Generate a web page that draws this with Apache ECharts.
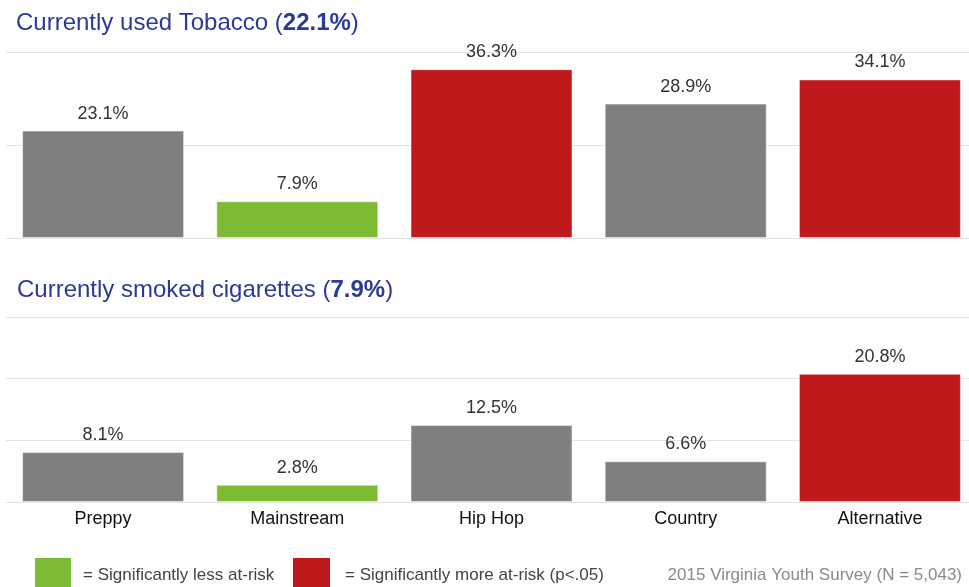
<!DOCTYPE html>
<html>
<head>
<meta charset="utf-8">
<script src="https://cdn.jsdelivr.net/npm/echarts@6/dist/echarts.min.js"></script>
<style>
  html, body { margin: 0; padding: 0; background: #fff; overflow: hidden; }
  /* the plot runs slightly past the right edge of the page */
  #chart { width: 985px; height: 587px; }
</style>
</head>
<body>
<div id="chart"></div>
<script>
// Peer-crowd groups
const categories = ['Preppy', 'Mainstream', 'Hip Hop', 'Country', 'Alternative'];

// Current tobacco use (%) by group; overall rate 22.1%
const tobaccoValues = [23.1, 7.9, 36.3, 28.9, 34.1];
const tobaccoOverall = '22.1%';
// Significance vs. overall: 'less', 'more' or 'none'
const tobaccoSig = ['none', 'less', 'more', 'none', 'more'];

// Current cigarette smoking (%) by group; overall rate 7.9%
const cigaretteValues = [8.1, 2.8, 12.5, 6.6, 20.8];
const cigaretteOverall = '7.9%';
const cigaretteSig = ['none', 'less', 'none', 'none', 'more'];

const sigColor = { none: '#7f7f7f', less: '#7cbb33', more: '#c0191b' };
const FONT = '"Liberation Sans", Arial, sans-serif';
const TITLE_BLUE = '#2b3a97';

function barData(values, sig) {
  return values.map((v, i) => ({
    value: v,
    itemStyle: { color: sigColor[sig[i]], borderColor: 'rgba(255,255,255,0.5)', borderWidth: 1 }
  }));
}

function titleRich() {
  return {
    fontWeight: 'normal',
    rich: {
      n: { fontFamily: FONT, fontSize: 24, color: TITLE_BLUE, fontWeight: 'normal' },
      b: { fontFamily: FONT, fontSize: 24, color: TITLE_BLUE, fontWeight: 'bold' }
    }
  };
}

const gridLine = { show: true, lineStyle: { color: '#e2e2e2', width: 1 } };
const valueLabel = {
  show: true, position: 'top', distance: 8,
  fontSize: 18, color: '#333', fontFamily: FONT,
  formatter: p => p.value.toFixed(1) + '%'
};

const chart = echarts.init(document.getElementById('chart'), null, { renderer: 'canvas' });

chart.setOption({
  animation: false,
  backgroundColor: '#fff',
  textStyle: { fontFamily: FONT },
  title: [
    {
      left: 11, top: 6,
      text: '{n|Currently used Tobacco (}{b|' + tobaccoOverall + '}{n|)}',
      textStyle: titleRich()
    },
    {
      left: 12, top: 273,
      text: '{n|Currently smoked cigarettes (}{b|' + cigaretteOverall + '}{n|)}',
      textStyle: titleRich()
    }
  ],
  grid: [
    { left: 6, width: 971, top: 52, height: 186 },
    { left: 6, width: 971, top: 317, height: 185 }
  ],
  xAxis: [
    {
      gridIndex: 0, type: 'category', data: categories,
      axisLine: { show: true, lineStyle: { color: '#e2e2e2' } },
      axisTick: { show: false }, axisLabel: { show: false }
    },
    {
      gridIndex: 1, type: 'category', data: categories,
      axisLine: { show: true, lineStyle: { color: '#e2e2e2' } },
      axisTick: { show: false },
      axisLabel: { show: true, margin: 8, fontSize: 18, color: '#111', fontFamily: FONT }
    }
  ],
  yAxis: [
    {
      gridIndex: 0, type: 'value', min: 0, max: 40, interval: 20,
      axisLine: { show: false }, axisTick: { show: false }, axisLabel: { show: false },
      splitLine: gridLine
    },
    {
      gridIndex: 1, type: 'value', min: 0, max: 30, interval: 10,
      axisLine: { show: false }, axisTick: { show: false }, axisLabel: { show: false },
      splitLine: gridLine
    }
  ],
  series: [
    {
      type: 'bar', xAxisIndex: 0, yAxisIndex: 0, barWidth: 162,
      data: barData(tobaccoValues, tobaccoSig),
      label: valueLabel
    },
    {
      type: 'bar', xAxisIndex: 1, yAxisIndex: 1, barWidth: 162,
      data: barData(cigaretteValues, cigaretteSig),
      label: valueLabel
    }
  ],
  graphic: [
    { type: 'rect', shape: { x: 35, y: 558, width: 36, height: 32 }, style: { fill: sigColor.less } },
    { type: 'text', x: 83, y: 575, style: { text: '= Significantly less at-risk', fontSize: 17, fontFamily: FONT, fill: '#444', verticalAlign: 'middle' } },
    { type: 'rect', shape: { x: 293, y: 558, width: 37, height: 32 }, style: { fill: sigColor.more } },
    { type: 'text', x: 345, y: 575, style: { text: '= Significantly more at-risk (p<.05)', fontSize: 17, fontFamily: FONT, fill: '#444', verticalAlign: 'middle' } },
    { type: 'text', x: 962, y: 575, style: { text: '2015 Virginia Youth Survey (N = 5,043)', fontSize: 17, fontFamily: FONT, fill: '#8a8a8a', align: 'right', verticalAlign: 'middle' } }
  ]
});
</script>
</body>
</html>
